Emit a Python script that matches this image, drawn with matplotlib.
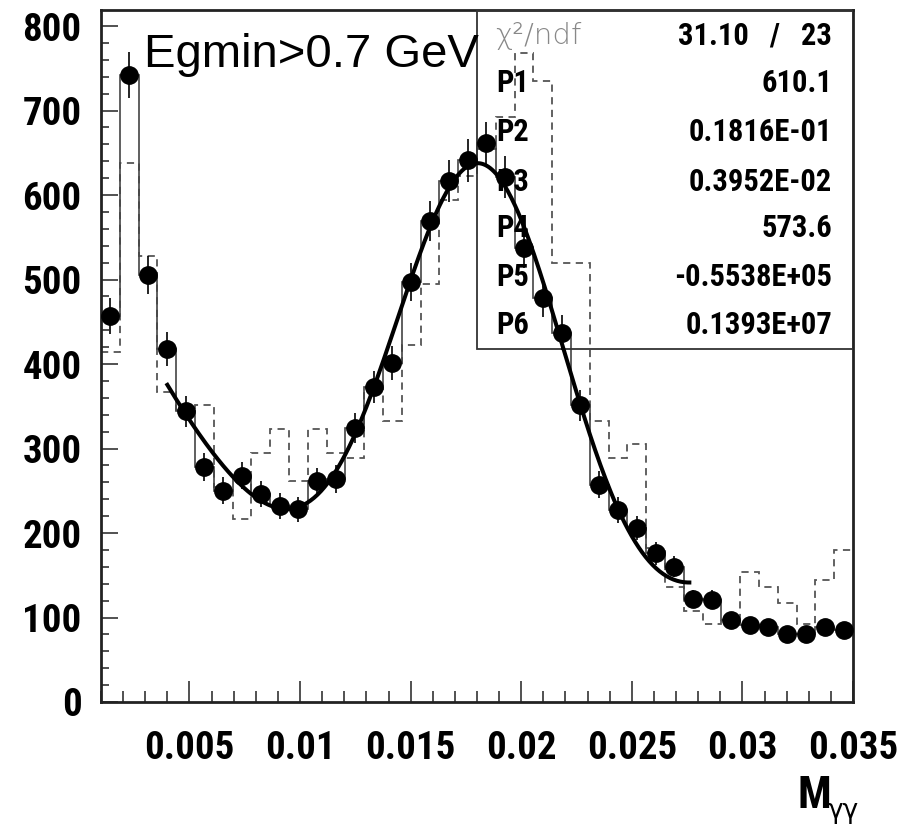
import numpy as np
import matplotlib
matplotlib.use("Agg")
import matplotlib.pyplot as plt
from matplotlib.patches import Rectangle
from matplotlib.ticker import MultipleLocator, FormatStrFormatter
from matplotlib import font_manager

# histogram binning (40 bins between 0.001 and 0.035)
x_lo, x_hi, n_bins = 0.001, 0.035, 40

# data points (filled circles + solid steps)
counts = [457, 742, 505, 418, 344, 278, 250, 268, 246, 232,
          228, 261, 264, 324, 373, 401, 497, 569, 617, 641,
          661, 621, 537, 478, 437, 351, 257, 227, 206, 176,
          160, 122, 121, 97, 91, 89, 81, 81, 89, 85]

# second histogram (dashed)
counts_ref = [414, 638, 528, 367, 345, 351, 255, 216, 295, 323,
              261, 323, 295, 289, 372, 332, 422, 495, 594, 622,
              655, 692, 768, 735, 520, 520, 332, 289, 305, 182,
              136, 108, 92, 96, 154, 136, 117, 92, 144, 180]

# fit: gaussian + 2nd order polynomial, parameters from the stats box
fit_pars = [610.1, 0.1816e-01, 0.3952e-02, 573.6, -0.5538e+05, 0.1393e+07]
fit_range = (0.0040, 0.0276)
chi2_text = "31.10   /   23"
par_labels = ["P1", "P2", "P3", "P4", "P5", "P6"]
par_texts = ["610.1", "0.1816E-01", "0.3952E-02", "573.6", "-0.5538E+05", "0.1393E+07"]

# pick a narrow bold sans font (PAW style)
bold_fams = {f.name for f in font_manager.fontManager.ttflist if f.weight in (700, "bold")}
narrow = "Liberation Sans"
for cand in ["Nimbus Sans Narrow", "Liberation Sans Narrow", "Arimo Narrow",
             "Archivo Narrow", "Roboto Condensed", "PT Sans Narrow",
             "Barlow Semi Condensed", "Asap Condensed"]:
    if cand in bold_fams:
        narrow = cand
        break

fig = plt.figure(figsize=(9.13, 8.32), dpi=100)
ax = fig.add_axes([101 / 913, 130 / 832, 752 / 913, 692 / 832])

edges = np.linspace(x_lo, x_hi, n_bins + 1)
centers = 0.5 * (edges[:-1] + edges[1:])
counts = np.array(counts, dtype=float)

ax.stairs(counts_ref, edges, baseline=None, color="#555555", lw=1.3,
          linestyle=(0, (4, 3)), zorder=2)
ax.stairs(counts, edges, baseline=None, color="#444444", lw=1.2, zorder=2)
ax.errorbar(centers, counts, yerr=np.sqrt(counts), fmt="o", color="black",
            ms=12.5, elinewidth=1.2, capsize=0, zorder=5)


def fit_func(x, p):
    return p[0] * np.exp(-0.5 * ((x - p[1]) / p[2]) ** 2) + p[3] + p[4] * x + p[5] * x ** 2


xf = np.linspace(fit_range[0], fit_range[1], 300)
ax.plot(xf, fit_func(xf, fit_pars), color="black", lw=2.9, zorder=4)

ax.set_xlim(x_lo, x_hi)
ax.set_ylim(0, 819)

ax.xaxis.set_major_locator(MultipleLocator(0.005))
ax.xaxis.set_minor_locator(MultipleLocator(0.001))
ax.xaxis.set_major_formatter(FormatStrFormatter("%g"))
ax.yaxis.set_major_locator(MultipleLocator(100))
ax.yaxis.set_minor_locator(MultipleLocator(20))

ax.tick_params(axis="both", which="both", direction="in", color="#333333",
               width=1.2, top=False, right=False)
ax.tick_params(axis="x", which="major", length=15, pad=20)
ax.tick_params(axis="x", which="minor", length=8)
ax.tick_params(axis="y", which="major", length=12, pad=14)
ax.tick_params(axis="y", which="minor", length=6)

for lab in ax.get_xticklabels() + ax.get_yticklabels():
    lab.set_fontfamily(narrow)
    lab.set_fontweight("bold")
    lab.set_fontsize(28)

for s in ax.spines.values():
    s.set_linewidth(2.0)
    s.set_color("#222222")

# stats box
ax.add_patch(Rectangle((0.5, 0.51), 0.5, 0.49, transform=ax.transAxes,
                       fill=False, edgecolor="#333333", lw=1.3, zorder=3))
ax.text(0.524, 0.963, "χ²/ndf", transform=ax.transAxes, fontsize=21,
        family="DejaVu Sans", color="#888888", fontweight="light",
        va="center", ha="left", zorder=3)
ax.text(0.972, 0.963, chi2_text, transform=ax.transAxes, fontsize=22,
        family=narrow, fontweight="bold", va="center", ha="right", zorder=3)
row_y = [0.894, 0.824, 0.752, 0.685, 0.614, 0.545]
for yy, lab, val in zip(row_y, par_labels, par_texts):
    ax.text(0.525, yy, lab, transform=ax.transAxes, fontsize=22, family=narrow,
            fontweight="bold", va="center", ha="left", zorder=3)
    ax.text(0.972, yy, val, transform=ax.transAxes, fontsize=22, family=narrow,
            fontweight="bold", va="center", ha="right", zorder=3)

ax.text(0.057, 0.918, "Egmin>0.7 GeV", transform=ax.transAxes, fontsize=34,
        family="Liberation Sans", va="baseline", ha="left", zorder=6)

# x axis title
fig.text(797 / 913, 1 - 808 / 832, "M", fontsize=32, family=narrow,
         fontweight="bold", va="baseline", ha="left")
fig.text(828 / 913, 1 - 818 / 832, "γγ", fontsize=19, family="DejaVu Sans",
         va="baseline", ha="left")

fig.savefig("out.png", dpi=100)
